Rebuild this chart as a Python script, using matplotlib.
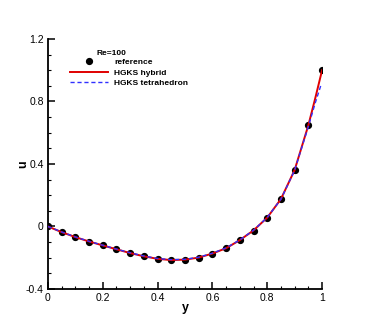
import numpy as np
import matplotlib.pyplot as plt
from matplotlib.ticker import MultipleLocator

plt.rcParams['font.family'] = ['Liberation Sans', 'DejaVu Sans']

# reference data (points)
y_ref = [0.0, 0.05, 0.1, 0.15, 0.2, 0.25, 0.3, 0.35, 0.4, 0.45, 0.5,
         0.55, 0.6, 0.65, 0.7, 0.75, 0.8, 0.85, 0.9, 0.95, 1.0]
u_ref = [0.0, -0.037, -0.069, -0.097, -0.12, -0.146, -0.17, -0.19, -0.207, -0.214, -0.213,
         -0.2, -0.174, -0.14, -0.088, -0.026, 0.056, 0.174, 0.36, 0.65, 1.0]

# HGKS hybrid
y_hyb = [0.0, 0.05, 0.1, 0.15, 0.2, 0.25, 0.3, 0.35, 0.4, 0.45, 0.5,
         0.55, 0.6, 0.65, 0.7, 0.75, 0.8, 0.85, 0.9, 0.95, 0.975, 1.0]
u_hyb = [0.0, -0.036, -0.068, -0.096, -0.121, -0.146, -0.17, -0.191, -0.207, -0.215, -0.212,
         -0.199, -0.173, -0.139, -0.087, -0.025, 0.057, 0.176, 0.362, 0.648, 0.82, 1.0]

# HGKS tetrahedron
y_tet = [0.0, 0.05, 0.1, 0.15, 0.2, 0.25, 0.3, 0.35, 0.4, 0.45, 0.5,
         0.55, 0.6, 0.65, 0.7, 0.75, 0.8, 0.85, 0.9, 0.95, 0.975, 0.995]
u_tet = [0.0, -0.035, -0.067, -0.095, -0.12, -0.145, -0.168, -0.189, -0.205, -0.212, -0.21,
         -0.197, -0.171, -0.137, -0.086, -0.024, 0.058, 0.175, 0.36, 0.64, 0.79, 0.9]

fig = plt.figure(figsize=(3.66, 3.26), dpi=100)
ax = fig.add_axes([0.131, 0.1135, 0.749, 0.767])

ax.plot(y_ref, u_ref, 'o', color='black', markersize=4.2, label='reference', zorder=3)
ax.plot(y_hyb, u_hyb, '-', color='#e00000', linewidth=1.4, label='HGKS hybrid', zorder=4)
ax.plot(y_tet, u_tet, '--', color='#3030ff', linewidth=1.0, dashes=(3, 2),
        label='HGKS tetrahedron', zorder=5)

ax.set_xlim(0, 1)
ax.set_ylim(-0.4, 1.2)
ax.set_xticks([0, 0.2, 0.4, 0.6, 0.8, 1.0])
ax.set_yticks([-0.4, 0, 0.4, 0.8, 1.2])
ax.set_xticklabels(['0', '0.2', '0.4', '0.6', '0.8', '1'])
ax.set_yticklabels(['-0.4', '0', '0.4', '0.8', '1.2'])
ax.xaxis.set_minor_locator(MultipleLocator(0.05))
ax.yaxis.set_minor_locator(MultipleLocator(0.1))

for s in ['top', 'right']:
    ax.spines[s].set_visible(False)
for s in ['left', 'bottom']:
    ax.spines[s].set_linewidth(1.3)
ax.tick_params(which='major', direction='in', length=5, width=1.1, labelsize=7.5, pad=3)
ax.tick_params(which='minor', direction='in', length=2.5, width=0.8)

ax.set_xlabel('y', fontsize=9, fontweight='bold', labelpad=-1)
ax.set_ylabel('u', fontsize=9, fontweight='bold', labelpad=-2.5)

leg = ax.legend(loc='upper left', bbox_to_anchor=(0.06, 0.945), frameon=False,
                prop={'size': 6, 'weight': 'bold'},
                handlelength=4.5, handletextpad=0.8, labelspacing=0.3, borderpad=0.2)
ax.text(0.176, 0.955, 'Re=100', transform=ax.transAxes, fontsize=6,
        fontweight='bold', ha='left', va='top')

fig.savefig('out.png', dpi=100)
